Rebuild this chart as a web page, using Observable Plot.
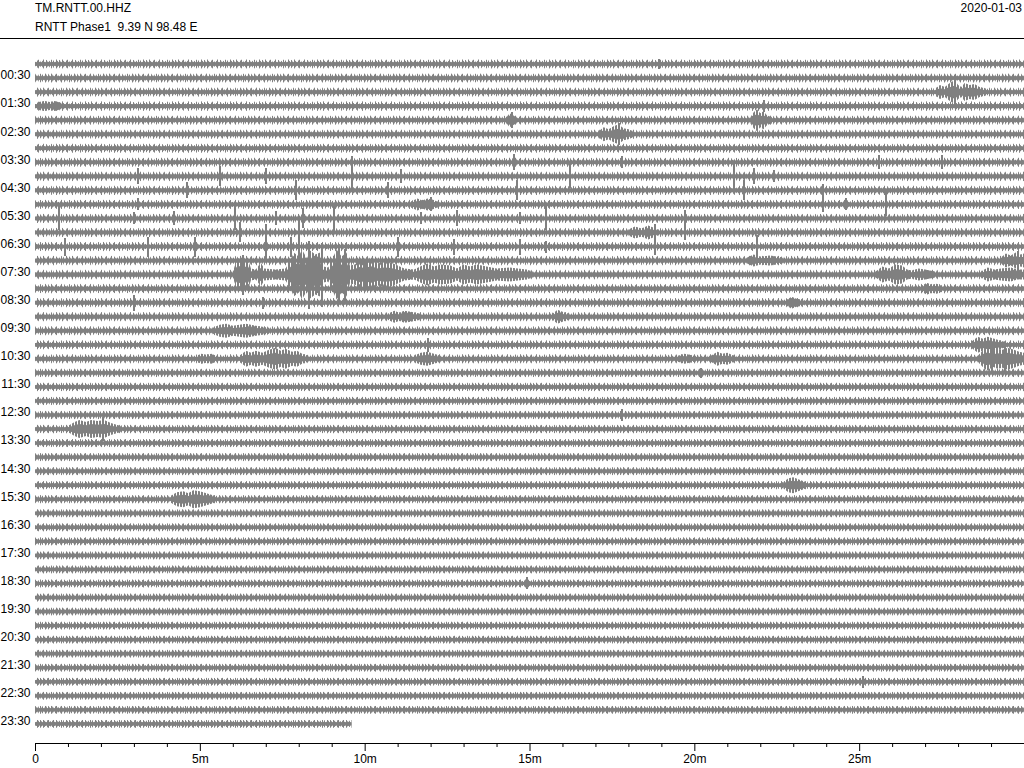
<!DOCTYPE html>
<html>
<head>
<meta charset="utf-8">
<script src="https://cdn.jsdelivr.net/npm/d3@7"></script>
<script src="https://cdn.jsdelivr.net/npm/@observablehq/plot@0.6"></script>
<style>
  html, body { margin: 0; padding: 0; background: #fff; }
  body { width: 1024px; font-family: "Liberation Sans", Arial, sans-serif; color: #000; }
  #hdr { position: relative; width: 1024px; height: 38px; border-bottom: 1px solid #000; font-size: 12px; line-height: 14px; }
  #hdr span { position: absolute; white-space: pre; }
  #hdr .t1 { left: 35px; top: 1px; }
  #hdr .t2 { left: 35px; top: 20px; }
  #hdr .dt { right: 2px; top: 1px; }
  #chart svg { display: block; }
</style>
</head>
<body>
<div id="hdr">
  <span class="t1">TM.RNTT.00.HHZ</span>
  <span class="t2">RNTT Phase1  9.39 N 98.48 E</span>
  <span class="dt">2020-01-03</span>
</div>
<div id="chart"></div>
<script>
// ---- data read from the helicorder ----
const hourLabels = ["00:30","01:30","02:30","03:30","04:30","05:30","06:30","07:30","08:30","09:30","10:30","11:30",
                    "12:30","13:30","14:30","15:30","16:30","17:30","18:30","19:30","20:30","21:30","22:30","23:30"];
const traceMinutes = 30;      // each line spans 30 minutes
const lastTraceEnd = 9.6;     // the 23:30 line stops here (minutes)

// half-height (px) of the dense core of the background noise, per line (00:00 ... 23:30)
const noiseCore = [1.8,1.8,1.8,2.0,1.9,1.9,1.8,1.8,1.9,1.9,1.9,1.8,1.8,1.8,1.9,2.1,2.0,1.9,1.9,1.9,1.8,1.9,
                   1.7,1.7,1.6,1.6,1.7,1.6,1.6,1.6,1.7,1.7,1.6,1.6,1.6,1.6,1.6,1.6,1.6,1.6,1.6,1.6,1.6,1.6,1.6,1.6,1.6,1.6];
// typical half-height (px) reached by the noise peaks, per line
const noisePeak = [4.5,4.5,4.5,4.8,4.6,4.6,4.5,4.6,4.8,4.7,4.6,4.6,4.6,4.6,4.8,5.0,4.8,4.6,4.6,4.6,4.5,4.6,
                   4.2,4.2,4.1,4.1,4.2,4.0,4.0,4.0,4.1,4.1,4.0,4.0,4.0,4.0,4.0,4.0,4.0,3.9,3.9,3.9,3.9,3.9,3.9,3.9,3.9,3.9];

// bursts: [line index, [[minute, half-amplitude px], ...]]
const bursts = [
  [2,  [[27.3,3],[27.45,7],[27.6,5],[27.75,9],[27.9,12],[28.0,7],[28.1,5],[28.2,9],[28.35,7],[28.5,8],[28.65,5],[28.9,3]]],
  [3,  [[0.1,4],[0.3,5],[0.45,4],[0.6,5],[0.8,3]]],
  [4,  [[14.3,3],[14.4,7],[14.5,5],[14.6,3]]],
  [4,  [[21.7,3],[21.8,8],[21.9,11],[22.0,7],[22.1,9],[22.2,5],[22.35,3]]],
  [5,  [[17.1,3],[17.25,7],[17.4,5],[17.55,8],[17.7,10],[17.85,6],[18.0,5],[18.15,3]]],
  [10, [[11.4,3],[11.6,6],[11.75,4],[11.9,6],[12.05,5],[12.2,3]]],
  [12, [[18.0,3],[18.2,6],[18.4,4],[18.6,7],[18.75,5],[18.9,3]]],
  [14, [[21.6,3],[21.8,6],[22.0,4],[22.3,5],[22.5,4],[22.7,3]]],
  [14, [[29.3,3],[29.45,7],[29.6,5],[29.75,8],[29.9,6],[30,7]]],
  [15, [[6.0,3],[6.15,17],[6.3,12],[6.45,16],[6.55,6],[6.7,5],[6.85,12],[6.95,6],[7.3,5],[7.6,6],[7.75,14],[7.85,22],
        [8.0,18],[8.1,25],[8.25,16],[8.35,24],[8.5,20],[8.65,22],[8.75,8],[8.9,7],[9.05,18],[9.15,25],[9.3,18],[9.45,22],
        [9.55,9],[9.7,10],[9.85,14],[10.0,12],[10.2,15],[10.4,11],[10.6,13],[10.8,12],[11.0,9],[11.2,6],[11.5,5],[11.75,9],
        [11.9,11],[12.1,8],[12.3,10],[12.6,9],[12.8,6],[13.0,10],[13.2,8],[13.4,10],[13.7,8],[14.0,6],[14.4,7],[14.9,5],[15.1,3]]],
  [15, [[25.5,3],[25.7,8],[25.9,6],[26.1,10],[26.3,9],[26.45,5],[26.6,4],[26.8,6],[27.0,5],[27.3,3]]],
  [15, [[28.7,3],[28.9,7],[29.1,5],[29.3,6],[29.6,7],[29.8,5],[30,5]]],
  [16, [[26.9,3],[27.05,6],[27.2,4],[27.35,5],[27.5,3]]],
  [17, [[22.8,3],[22.95,6],[23.1,4],[23.3,3]]],
  [18, [[10.7,3],[10.9,6],[11.05,4],[11.2,6],[11.4,5],[11.7,3]]],
  [18, [[15.7,3],[15.85,7],[16.0,5],[16.2,3]]],
  [19, [[5.4,3],[5.6,6],[5.8,7],[6.0,5],[6.2,6],[6.4,7],[6.7,5],[7.1,3]]],
  [20, [[28.4,3],[28.6,8],[28.75,6],[28.9,8],[29.1,6],[29.4,3]]],
  [21, [[4.9,3],[5.05,5],[5.2,4],[5.35,5],[5.5,3]]],
  [21, [[6.2,3],[6.4,8],[6.55,6],[6.7,8],[6.9,6],[7.1,9],[7.3,11],[7.45,8],[7.6,10],[7.8,7],[7.95,8],[8.1,5],[8.3,3]]],
  [21, [[11.5,3],[11.7,6],[11.9,7],[12.1,5],[12.3,3]]],
  [21, [[19.5,3],[19.7,5],[19.85,4],[20.0,3]]],
  [21, [[20.5,3],[20.7,7],[20.85,5],[21.0,6],[21.2,3]]],
  [21, [[28.6,3],[28.8,10],[28.9,12],[29.05,8],[29.2,10],[29.35,9],[29.5,11],[29.7,9],[29.85,7],[30,6]]],
  [26, [[1.0,3],[1.2,7],[1.35,9],[1.55,7],[1.7,9],[1.9,8],[2.1,9],[2.3,6],[2.6,3]]],
  [30, [[22.7,3],[22.85,7],[23.0,8],[23.15,6],[23.4,3]]],
  [31, [[4.1,3],[4.3,7],[4.5,8],[4.65,6],[4.8,9],[5.0,8],[5.2,6],[5.5,3]]]
];

// isolated spikes: [line index, minute, half-amplitude px]
const spikes = [
  [0,18.9,5],[2,27.9,13],[3,22.1,6],[4,14.45,8],[5,17.7,11],
  [7,9.6,6],[7,14.5,8],[7,17.8,6],[7,25.6,7],[7,27.5,7],
  [8,3.1,8],[8,5.6,10],[8,7.0,8],[8,9.6,14],[8,11.1,7],[8,16.2,12],[8,21.2,12],[8,21.8,8],[8,22.4,6],
  [9,4.6,8],[9,7.9,10],[9,10.7,8],[9,14.6,10],[9,21.5,10],[9,23.9,6],
  [10,3.1,6],[10,12.0,7],[10,23.9,8],[10,24.6,6],[10,25.8,12],
  [11,0.7,12],[11,3.0,6],[11,4.2,7],[11,6.06,12],[11,7.3,7],[11,8.1,10],[11,9.06,13],[11,11.7,6],[11,12.8,8],[11,14.7,6],[11,15.5,12],[11,19.7,8],
  [12,6.2,10],[12,7.0,8],[12,8.0,12],[12,18.8,8],[12,19.7,8],
  [13,0.9,9],[13,3.4,10],[13,4.85,10],[13,7.0,14],[13,7.75,10],[13,8.0,14],[13,11.0,10],[13,12.7,8],[13,14.7,8],[13,15.5,6],[13,18.8,8],[13,21.9,12],
  [14,29.8,10],
  [15,6.3,20],[15,8.3,34],[15,8.7,32],[15,9.2,28],[15,9.4,26],[15,10.0,16],
  [17,3.0,8],[17,6.9,6],[20,11.9,7],[21,29.0,15],[21,29.4,15],[22,20.2,5],[25,17.8,6],[26,2.06,12],[37,14.9,6],[44,25.1,6]
];

const majorTicks = [0, 5, 10, 15, 20, 25];
const majorLabels = ["0", "5m", "10m", "15m", "20m", "25m"];
const minorTicks = [1,2,3,4,6,7,8,9,11,12,13,14,16,17,18,19,21,22,23,24,26,27,28,29];

// ---- style: texture of the noise band edge (half-heights in px of the 1-px wiggles, drawing style only) ----
const wiggle = [1.5,4,2.5,1.5,5,3,2,1.5,3.5,4.5,2,2.5,1.5,3,5,2,1.5,4,2.5,2,3,1.5,4.5,2,3.5,1.5,2,5,3];
const wiggleRowShift = [0, 11, 19];

// ---- build tables ----
const ROW = 14.04;          // px between lines
const GRAY = "#808080";
const nLines = noiseCore.length;
const traces = noiseCore.map((c, i) => ({
  row: i, start: 0, end: i === nLines - 1 ? lastTraceEnd : traceMinutes, core: c, peak: noisePeak[i]
}));
const burstPts = bursts.flatMap(([row, pts], id) => pts.map(([m, a]) => ({id, row, m, a})));
const spikeData = spikes.map(([row, m, a]) => ({row, m, a}));
const labelRows = hourLabels.map((_, k) => 2 * k + 1);

const chart = Plot.plot({
  width: 1024,
  height: 729,
  marginLeft: 35,
  marginRight: 0,
  marginTop: 18,
  marginBottom: 25,
  x: {domain: [0, traceMinutes], range: [35, 1024]},
  y: {domain: [0, nLines - 1], range: [25, 25 + (nLines - 1) * ROW]},
  style: {fontFamily: "'Liberation Sans', Arial, sans-serif", fontSize: "12px", background: "white", color: "black"},
  marks: [
    Plot.rect(traces, {x1: "start", x2: "end", y1: d => d.row - d.peak / ROW, y2: d => d.row + d.peak / ROW, fill: "url(#noiseTex)"}),
    Plot.rect(traces, {x1: "start", x2: "end", y1: d => d.row - d.core / ROW, y2: d => d.row + d.core / ROW, fill: GRAY}),
    Plot.areaY(burstPts, {x: "m", y1: d => d.row - d.a / ROW, y2: d => d.row + d.a / ROW, z: "id", fill: "url(#burstTex)"}),
    Plot.areaY(burstPts, {x: "m", y1: d => d.row - 0.55 * d.a / ROW, y2: d => d.row + 0.55 * d.a / ROW, z: "id", fill: GRAY}),
    Plot.ruleX(spikeData, {x: "m", y1: d => d.row - d.a / ROW, y2: d => d.row + d.a / ROW, stroke: GRAY, strokeWidth: 2,
      shapeRendering: "crispEdges"}),
    Plot.axisY(labelRows, {tickSize: 0, tickPadding: 5, dy: -3, label: null, fontSize: 12,
      tickFormat: d => hourLabels[(d - 1) / 2]}),
    Plot.axisX(minorTicks, {tickSize: 4, label: null, tickFormat: () => ""}),
    Plot.axisX(majorTicks, {tickSize: 8, tickPadding: 3, label: null, fontSize: 12,
      tickFormat: d => majorLabels[majorTicks.indexOf(d)]}),
    Plot.frame({anchor: "bottom", stroke: "black"})
  ]
});

// texture pattern definitions (pure styling of fills)
const ns = "http://www.w3.org/2000/svg";
const defs = document.createElementNS(ns, "defs");
const pat = document.createElementNS(ns, "pattern");
pat.setAttribute("id", "noiseTex");
pat.setAttribute("patternUnits", "userSpaceOnUse");
pat.setAttribute("x", 0);
pat.setAttribute("y", 25 - ROW / 2);
pat.setAttribute("width", wiggle.length);
pat.setAttribute("height", ROW * wiggleRowShift.length);
wiggleRowShift.forEach((shift, r) => {
  wiggle.forEach((_, k) => {
    const h = wiggle[(k + shift) % wiggle.length];
    const rc = document.createElementNS(ns, "rect");
    rc.setAttribute("x", k);
    rc.setAttribute("width", 1);
    rc.setAttribute("y", r * ROW + ROW / 2 - h);
    rc.setAttribute("height", 2 * h);
    rc.setAttribute("fill", GRAY);
    pat.appendChild(rc);
  });
});
defs.appendChild(pat);
const bpat = document.createElementNS(ns, "pattern");
bpat.setAttribute("id", "burstTex");
bpat.setAttribute("patternUnits", "userSpaceOnUse");
bpat.setAttribute("width", 3);
bpat.setAttribute("height", 10);
const brc = document.createElementNS(ns, "rect");
brc.setAttribute("width", 2);
brc.setAttribute("height", 10);
brc.setAttribute("fill", GRAY);
bpat.appendChild(brc);
defs.appendChild(bpat);
chart.insertBefore(defs, chart.firstChild);
document.getElementById("chart").appendChild(chart);
</script>
</body>
</html>
